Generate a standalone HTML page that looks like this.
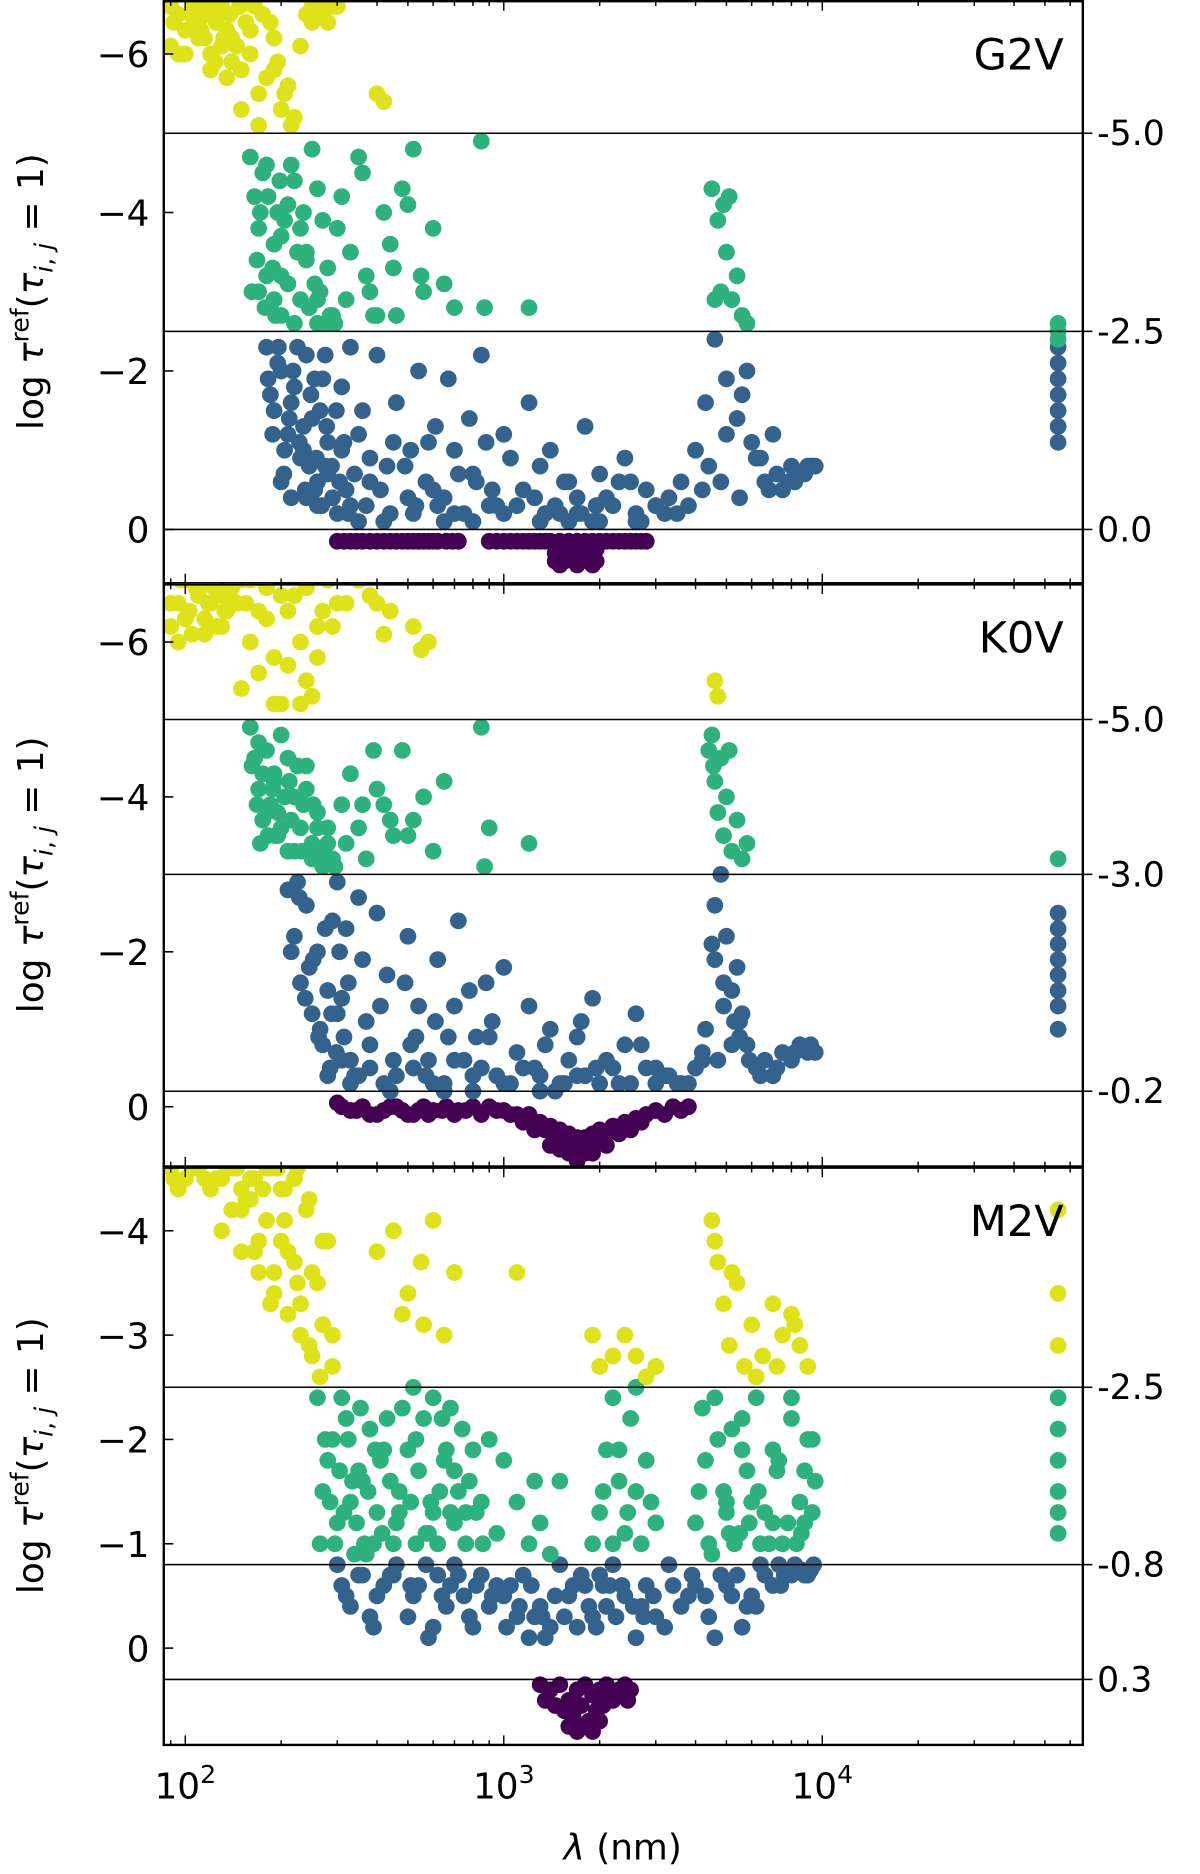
<!DOCTYPE html>
<html><head><meta charset="utf-8"><style>
html,body{margin:0;padding:0;background:#fff}
svg{display:block}
text{font-family:"DejaVu Sans","Liberation Sans",sans-serif;fill:#000}
</style></head><body>
<svg id="chart" width="1200" height="1874" viewBox="0 0 1004 1568" xmlns="http://www.w3.org/2000/svg"></svg>
<script>
// ---------- Data (wavelength nm, log tau) ----------
const xTicks = [100, 1000, 10000];
const xTickExp = ["2", "3", "4"];
const colors = {y:"#dde318", g:"#2db27d", b:"#33638d", p:"#440154"};

// Panel 1: G2V
const g2vYellowLam = [90,95,100,105,110,115,120,125,130,135,140,100,110,120,130,140,150,160,170,180,190,200,220,240,260,280,300,150,170,190,210,230,250,400,420,95,115,135,155,175,92,108,128,148,
 90,98,104,112,118,124,132,138,145,160,165,185,195,205,215,250,270,290];
const g2vYellowTau = [-6.6,-6.5,-6.3,-6.6,-6.2,-6.5,-6.0,-6.4,-6.1,-6.3,-5.9,-6.0,-6.4,-5.8,-6.6,-6.2,-5.8,-6.0,-5.5,-5.7,-6.2,-5.3,-5.2,-6.5,-6.6,-6.4,-6.6,-5.3,-5.1,-5.8,-5.6,-6.1,-6.6,-5.5,-5.4,-6.0,-6.2,-5.7,-6.4,-6.5,-6.4,-6.6,-6.5,-6.6,
 -6.1,-6.0,-6.5,-6.3,-6.6,-5.9,-6.2,-6.5,-6.1,-6.3,-6.6,-6.4,-5.9,-5.5,-5.1,-6.4,-6.5,-6.6];
const g2vGreenLam = [160,165,170,175,180,185,190,195,200,210,220,230,240,250,260,270,280,170,180,190,200,210,220,240,260,290,310,330,350,370,390,420,450,480,520,560,600,650,700,320,360,400,440,500,550,850,870,1200,4500,4700,4800,4900,5000,5200,5400,5600,4600,5100,5800,55000,55000,55000,300,380,460,
 162,168,172,178,182,188,192,198,205,215,225,235,245,255,265,275,285,295,200,230,260];
const g2vGreenTau = [-4.7,-4.2,-3.8,-4.5,-3.2,-2.8,-3.6,-4.0,-2.7,-3.1,-4.4,-2.9,-3.5,-4.8,-2.6,-3.9,-3.3,-3.0,-4.6,-2.9,-3.7,-4.1,-2.6,-3.4,-4.3,-2.7,-4.2,-3.5,-4.7,-3.2,-2.7,-4.0,-3.3,-4.3,-4.8,-3.0,-3.8,-3.1,-2.8,-2.9,-4.5,-2.7,-3.6,-4.1,-3.2,-4.9,-2.8,-2.8,-4.3,-3.9,-3.0,-4.1,-3.5,-2.9,-3.2,-2.7,-2.9,-4.2,-2.6,-2.6,-2.5,-2.4,-3.8,-3.0,-2.7,
 -3.0,-3.4,-4.0,-2.8,-4.2,-3.3,-2.7,-4.4,-3.9,-4.6,-3.5,-4.0,-2.8,-3.1,-3.0,-2.6,-2.7,-2.6,-3.2,-3.8,-2.9];
const g2vBlueLam = [180,190,200,210,220,230,240,250,260,270,280,290,185,195,205,215,225,235,245,255,265,275,300,310,320,330,350,370,400,430,460,500,540,580,620,670,720,780,850,920,1000,1100,1200,1300,1400,1500,1600,1700,1800,1900,2000,2200,2400,2600,2800,3000,3300,3600,4000,4300,4600,5000,5400,5800,6200,6600,7000,7500,8000,8500,9000,9500,330,380,440,510,600,700,800,900,1050,1250,1450,1700,2100,2500,3000,3500,4200,4800,5500,350,420,520,650,800,1000,1300,1600,2000,2600,55000,55000,55000,55000,55000,55000,55000,240,280,310,260,8800,9300,7800,6800,
 182,188,196,204,212,218,228,238,248,258,268,278,288,298,305,315,325,340,360,380,410,450,490,530,570,610,650,700,750,820,880,950,1150,1350,1550,1750,1950,2300,2700,3200,3800,4400,5000,5600,6000,6400,7200,8200,9200,200,215,235,255,275];
const g2vBlueTau = [-2.3,-1.5,-2.0,-1.2,-1.8,-0.9,-2.2,-1.4,-0.6,-1.9,-1.1,-0.4,-1.7,-2.1,-1.0,-1.6,-2.3,-1.3,-0.8,-1.9,-1.5,-2.2,-0.2,-1.8,-0.5,-2.3,-1.2,-0.3,-2.2,-0.8,-1.6,-0.4,-2.0,-1.1,-0.3,-1.9,-0.7,-1.4,-2.2,-0.5,-1.2,-0.3,-1.6,-0.8,-1.0,-0.2,-0.6,-0.4,-1.3,-0.1,-0.7,-0.3,-0.9,-0.2,-0.5,-0.3,-0.4,-0.6,-1.0,-1.6,-2.4,-1.9,-1.4,-2.0,-0.9,-0.6,-1.2,-0.5,-0.8,-0.7,-0.8,-0.8,-0.3,-0.6,-0.2,-1.0,-0.5,-0.2,-0.7,-0.3,-0.9,-0.4,-0.3,-0.2,-0.4,-0.6,-0.3,-0.2,-0.5,-0.6,-0.4,-0.1,-0.1,-0.2,-0.1,-0.1,-0.2,-0.1,-0.1,-0.1,-0.1,-2.3,-2.1,-1.9,-1.7,-1.5,-1.3,-1.1,-0.4,-0.7,-1.0,-0.3,-0.7,-0.8,-0.6,-0.5,
 -1.9,-1.2,-2.3,-0.7,-1.4,-2.0,-1.1,-0.5,-1.7,-0.9,-0.3,-1.3,-0.8,-1.5,-0.6,-1.1,-0.2,-0.7,-1.5,-0.9,-0.5,-1.1,-0.8,-0.3,-0.6,-1.3,-0.4,-1.0,-0.2,-0.6,-1.1,-0.3,-0.5,-0.2,-0.6,-0.2,-0.3,-0.6,-0.1,-0.2,-0.3,-0.8,-1.2,-1.7,-1.1,-0.9,-0.7,-0.6,-0.8,-0.6,-0.4,-1.0,-0.5,-0.8];
const g2vPurpleLam = [300,330,360,400,440,480,520,560,600,660,720,900,1000,1100,1200,1300,1400,1500,1600,1700,1800,1900,2000,2200,2400,2600,2800,1450,1550,1650,1750,1850,1950,
 315,345,380,420,460,500,540,580,620,690,950,1050,1150,1250,1350,1450,1550,1650,1750,1850,1950,2100,2300,2500,2700,1500,1700,1900];
const g2vPurpleTau = [0.15,0.15,0.15,0.15,0.15,0.15,0.15,0.15,0.15,0.15,0.15,0.15,0.15,0.15,0.15,0.15,0.15,0.15,0.15,0.15,0.15,0.15,0.15,0.15,0.15,0.15,0.15,0.4,0.4,0.3,0.4,0.3,0.4,
 0.15,0.15,0.15,0.15,0.15,0.15,0.15,0.15,0.15,0.15,0.15,0.15,0.15,0.15,0.15,0.3,0.25,0.3,0.25,0.3,0.25,0.15,0.15,0.15,0.15,0.45,0.45,0.45];

// Panel 2: K0V
const k0vYellowLam = [90,95,100,105,110,115,120,125,130,135,140,100,110,120,130,140,150,160,170,180,190,200,220,240,260,280,300,150,170,190,210,230,250,400,420,550,580,95,115,135,155,175,200,230,260,4600,4700,
 90,97,103,108,113,118,123,128,133,138,145,160,180,210,240,270,290,320,350,380,440,520];
const k0vYellowTau = [-6.2,-6.5,-6.8,-6.1,-6.6,-6.3,-6.8,-6.2,-6.6,-6.4,-6.8,-6.3,-6.7,-6.5,-6.2,-6.7,-6.8,-6.0,-5.6,-6.3,-5.8,-5.2,-6.6,-5.5,-6.2,-6.8,-6.5,-5.4,-6.4,-5.2,-5.7,-6.0,-5.3,-6.5,-6.1,-5.9,-6.0,-6.0,-6.1,-6.6,-6.5,-6.8,-6.6,-5.2,-5.8,-5.5,-5.3,
 -6.5,-6.8,-6.4,-6.7,-6.8,-6.5,-6.7,-6.8,-6.4,-6.6,-6.5,-6.8,-6.7,-6.4,-6.7,-6.4,-6.2,-6.5,-6.8,-6.6,-6.4,-6.2];
const k0vGreenLam = [160,165,170,175,180,185,190,195,200,210,220,230,240,250,260,270,280,290,170,180,190,200,210,220,240,260,310,330,350,370,390,420,450,480,520,560,600,650,320,360,400,440,500,850,870,900,1200,4400,4500,4600,4700,4800,4900,5000,5200,5400,5600,5800,4550,5100,55000,
 162,168,175,182,188,195,205,215,225,235,250,265,280,295,172,192,212,232,252,272];
const k0vGreenTau = [-4.9,-4.5,-4.1,-3.7,-4.6,-3.9,-4.3,-3.5,-4.8,-3.3,-4.0,-3.6,-4.4,-3.2,-3.8,-3.1,-3.4,-3.2,-4.7,-3.8,-4.2,-3.6,-4.5,-3.3,-4.1,-3.6,-3.9,-4.3,-3.6,-3.2,-4.6,-3.9,-3.5,-4.6,-3.7,-4.0,-3.3,-4.2,-3.4,-3.9,-4.1,-3.7,-3.5,-4.9,-3.1,-3.6,-3.4,-4.6,-4.8,-4.2,-3.8,-4.5,-3.5,-4.0,-3.3,-3.7,-3.2,-3.4,-4.4,-4.6,-3.2,
 -4.4,-3.9,-4.3,-3.5,-4.1,-3.8,-4.0,-3.7,-4.4,-3.9,-3.4,-3.3,-3.6,-3.1,-3.4,-3.5,-4.2,-3.3,-3.9,-3.2];
const k0vBlueLam = [210,220,230,240,250,260,270,280,290,225,245,265,285,300,310,320,330,350,370,400,430,460,500,540,580,620,670,720,780,850,920,1000,1100,1200,1300,1400,1500,1600,1700,1800,1900,2000,2200,2400,2600,2800,3000,3300,3600,4000,4300,4600,4800,5000,5200,5400,5600,5800,6200,6600,7000,7500,8000,8500,9000,9500,330,380,440,510,600,700,800,900,1050,1250,1450,1700,2100,2500,3000,3500,4200,4500,4900,5500,350,420,520,650,800,1000,1300,55000,55000,55000,55000,55000,55000,55000,55000,300,280,310,4700,5300,
 215,228,238,252,262,275,288,298,305,315,325,340,360,380,410,450,490,530,570,610,650,700,750,820,880,950,1150,1350,1550,1750,1950,2300,2700,3200,3800,4200,4600,4900,5200,5500,5900,6400,7200,8200,9200];
const k0vBlueTau = [-2.8,-2.2,-1.6,-2.6,-1.2,-2.0,-0.8,-1.5,-2.4,-2.9,-1.8,-1.0,-0.5,-2.9,-1.4,-2.3,-0.6,-2.7,-1.1,-2.5,-1.7,-0.4,-2.2,-1.3,-0.6,-1.9,-0.9,-2.4,-1.5,-0.5,-1.1,-1.8,-0.7,-1.3,-0.4,-1.0,-0.3,-0.6,-0.9,-0.4,-1.4,-0.3,-0.5,-0.8,-1.2,-0.5,-0.3,-0.4,-0.3,-0.5,-1.0,-2.6,-3.0,-2.2,-1.5,-1.8,-1.2,-0.8,-0.5,-0.6,-0.4,-0.7,-0.6,-0.8,-0.7,-0.7,-0.3,-0.5,-0.2,-0.8,-0.3,-0.6,-0.2,-0.9,-0.3,-0.5,-0.2,-0.4,-0.6,-0.3,-0.5,-0.3,-0.7,-2.1,-1.6,-0.9,-0.4,-0.3,-0.5,-0.2,-0.4,-0.3,-0.2,-2.5,-2.3,-2.1,-1.9,-1.7,-1.5,-1.3,-1.0,-1.2,-0.4,-0.6,-0.6,-1.1,
 -2.0,-2.7,-1.4,-1.9,-0.9,-2.3,-1.2,-0.7,-2.0,-0.9,-1.6,-0.4,-1.9,-0.8,-1.3,-0.6,-1.6,-0.9,-0.4,-1.1,-0.3,-1.3,-0.6,-0.9,-1.6,-0.4,-0.5,-0.8,-0.3,-1.1,-0.5,-0.3,-0.8,-0.4,-0.3,-0.6,-1.9,-1.3,-0.8,-1.1,-0.6,-0.4,-0.5,-0.7,-0.8];
const k0vPurpleLam = [300,330,360,400,440,480,520,560,600,660,720,800,900,1000,1100,1200,1300,1400,1500,1600,1700,1800,1900,2000,2200,2400,2600,2800,3000,3400,3800,1350,1450,1550,1650,1750,1850,1950,2100,1600,1700,1800,
 310,345,380,420,460,500,540,580,640,700,760,850,950,1050,1150,1250,1400,1500,1700,1900,2100,2300,2500,2700,3200,3600];
const k0vPurpleTau = [-0.05,0.05,0,0.1,0,0.05,0.1,0,0.05,0,0.05,0,0,0.05,0.1,0.1,0.2,0.25,0.3,0.35,0.4,0.4,0.35,0.3,0.25,0.2,0.15,0.1,0.05,0,0,0.3,0.4,0.5,0.5,0.5,0.5,0.45,0.35,0.6,0.65,0.6,
 0,0.05,0.1,0.05,0,0.1,0.05,0.1,0.05,0.1,0.05,0.1,0.05,0.1,0.2,0.3,0.5,0.55,0.7,0.6,0.5,0.35,0.3,0.2,0.1,0.05];

// Panel 3: M2V
const m2vYellowLam = [90,100,110,120,130,140,150,160,180,200,220,95,115,135,155,175,195,130,140,150,160,170,180,190,200,210,220,230,240,250,260,270,280,290,165,185,205,225,245,265,400,450,500,550,600,650,700,480,560,1100,1900,2000,2200,2400,2600,2800,3000,4500,4700,4900,5100,5400,5700,6000,6500,7000,7500,8000,8500,9000,4600,5200,6200,7200,8200,55000,55000,55000,
 92,105,125,145,165,185,205,225,245,270,290,150,170,190,210,230,250];
const m2vYellowTau = [-4.6,-4.5,-4.6,-4.4,-4.5,-4.6,-4.4,-4.5,-4.6,-4.4,-4.5,-4.4,-4.5,-4.6,-4.3,-4.4,-4.6,-4.0,-4.2,-3.8,-4.3,-3.6,-4.1,-3.4,-3.9,-3.2,-3.7,-3.0,-4.2,-2.8,-3.5,-3.1,-3.9,-2.7,-3.8,-3.3,-4.1,-3.5,-2.9,-2.6,-3.8,-4.0,-3.4,-3.7,-4.1,-3.0,-3.6,-3.2,-3.1,-3.6,-3.0,-2.7,-2.8,-3.0,-2.8,-2.6,-2.7,-4.1,-3.7,-3.3,-2.9,-3.5,-2.7,-3.1,-2.8,-3.3,-3.0,-3.2,-2.9,-2.7,-3.9,-3.6,-2.6,-2.7,-3.1,-4.2,-3.4,-2.9,
 -4.5,-4.6,-4.5,-4.6,-4.5,-4.6,-4.4,-4.6,-4.3,-3.9,-3.0,-4.2,-3.9,-3.6,-3.8,-3.3,-3.6];
const m2vGreenLam = [260,280,300,320,340,360,380,400,420,450,480,510,540,570,600,630,660,700,740,780,820,860,900,270,310,350,390,430,470,520,580,640,700,760,290,330,370,410,460,530,600,680,1000,1100,1200,1300,1400,1500,2000,2100,2200,2300,2400,2500,2600,2800,3000,2200,2600,4000,4300,4600,4900,5200,5500,5800,6200,6600,7000,7500,8000,8500,9000,9500,4500,5000,5600,6400,7200,8000,8800,9300,55000,55000,55000,55000,55000,55000,
 265,275,285,295,305,315,325,335,345,355,365,375,395,415,440,470,500,530,560,590,620,650,680,720,760,800,850,950,1250,1900,2050,2300,2450,2700,2900,4100,4400,4700,5000,5300,5600,5900,6300,6800,7300,7800,8300,8800,9300,4200,5100,6000,7000,8600];
const m2vGreenTau = [-2.4,-1.8,-1.2,-2.2,-0.9,-1.6,-2.1,-1.3,-1.9,-1.0,-2.3,-1.4,-1.7,-1.1,-2.4,-1.5,-1.9,-1.2,-2.1,-1.6,-1.3,-1.0,-2.0,-1.5,-2.4,-1.7,-1.0,-2.2,-1.5,-2.5,-1.1,-2.2,-1.7,-1.3,-2.0,-1.4,-0.9,-1.8,-1.2,-2.0,-1.3,-2.3,-1.8,-1.4,-1.0,-1.2,-0.9,-1.6,-1.3,-1.9,-2.4,-1.6,-1.1,-2.2,-1.5,-1.8,-1.2,-1.0,-2.5,-1.2,-1.8,-2.4,-1.5,-2.1,-1.1,-1.7,-2.4,-1.3,-1.9,-1.0,-2.2,-1.4,-2.0,-1.6,-0.9,-1.4,-2.2,-1.0,-1.7,-2.4,-1.2,-2.0,-2.4,-2.1,-1.8,-1.5,-1.3,-1.1,
 -1.0,-2.0,-1.4,-1.0,-1.7,-1.3,-2.0,-1.6,-1.2,-2.3,-1.0,-1.5,-1.9,-1.1,-1.6,-1.3,-1.9,-1.0,-2.2,-1.4,-1.0,-1.8,-1.3,-1.5,-1.0,-1.9,-1.4,-1.1,-1.6,-1.0,-1.5,-1.9,-1.3,-1.0,-1.4,-1.5,-1.0,-2.0,-1.3,-1.0,-1.9,-1.2,-1.5,-1.0,-1.8,-1.2,-1.0,-1.7,-1.3,-2.3,-1.1,-1.4,-1.2,-1.1];
const m2vBlueLam = [300,330,360,390,420,460,500,540,580,620,660,700,750,800,850,900,950,320,380,440,520,600,680,780,1000,1100,1200,1300,1400,1050,1150,1250,1350,1500,1600,1700,1800,1900,2000,2100,2200,2400,1550,1750,1950,2150,2600,2800,3000,3300,3600,4000,4400,4800,5200,5600,6000,6400,7000,7600,8200,8800,9400,2700,3200,3800,4600,5400,6200,7400,9000,
 310,350,400,450,510,570,640,720,820,920,1020,1120,1220,1320,1450,1650,1850,2050,2250,2350,2550,2750,2950,3400,3900,4300,5000,5800,6600,7300,8000,8600,9200];
const m2vBlueTau = [-0.8,-0.4,-0.7,-0.2,-0.6,-0.8,-0.3,-0.6,-0.1,-0.7,-0.4,-0.8,-0.5,-0.2,-0.7,-0.4,-0.6,-0.5,-0.3,-0.7,-0.5,-0.2,-0.6,-0.3,-0.5,-0.3,-0.1,-0.4,-0.2,-0.6,-0.7,-0.3,-0.1,-0.8,-0.5,-0.2,-0.6,-0.3,-0.7,-0.4,-0.8,-0.5,-0.3,-0.7,-0.2,-0.6,-0.1,-0.6,-0.3,-0.8,-0.4,-0.6,-0.3,-0.7,-0.5,-0.2,-0.5,-0.8,-0.6,-0.7,-0.8,-0.7,-0.8,-0.4,-0.2,-0.5,-0.1,-0.7,-0.4,-0.6,-0.7,
 -0.6,-0.7,-0.5,-0.7,-0.6,-0.8,-0.5,-0.7,-0.6,-0.5,-0.2,-0.4,-0.6,-0.3,-0.5,-0.6,-0.4,-0.6,-0.3,-0.6,-0.4,-0.3,-0.5,-0.6,-0.7,-0.5,-0.6,-0.4,-0.7,-0.8,-0.7,-0.75,-0.75];
const m2vPurpleLam = [1300,1400,1500,1600,1700,1800,1900,2000,2100,2200,2300,2400,2500,1450,1550,1650,1750,1850,1950,2050,2150,1600,1700,1800,1900,2000,1350,2450];
const m2vPurpleTau = [0.35,0.4,0.35,0.5,0.4,0.35,0.45,0.4,0.35,0.5,0.4,0.35,0.4,0.55,0.6,0.65,0.55,0.7,0.6,0.55,0.5,0.75,0.8,0.75,0.8,0.7,0.5,0.5];

// Reference lines & ticks per panel
const g2vLines = [-5.0, -2.5, 0.0];
const g2vLineLabels = ["-5.0", "-2.5", "0.0"];
const k0vLines = [-5.0, -3.0, -0.2];
const k0vLineLabels = ["-5.0", "-3.0", "-0.2"];
const m2vLines = [-2.5, -0.8, 0.3];
const m2vLineLabels = ["-2.5", "-0.8", "0.3"];
const g2vYTicks = [-6, -4, -2, 0];
const k0vYTicks = [-6, -4, -2, 0];
const m2vYTicks = [-4, -3, -2, -1, 0];

// ---------- Drawing ----------
const NS = "http://www.w3.org/2000/svg";
const svg = document.getElementById("chart");
const L = 137, R = 906;
function xScale(lam){ return 155 + (Math.log10(lam) - 2) * 266.5; }
function mk(tag, attrs, parent){
  const e = document.createElementNS(NS, tag);
  for (const k in attrs) e.setAttribute(k, attrs[k]);
  (parent || svg).appendChild(e);
  return e;
}

const panels = [
  {name:"g2v", title:"G2V", top:0, bot:488, y0:443, unit:66.3, lines:g2vLines, lineLabels:g2vLineLabels, yticks:g2vYTicks,
   sets:[[g2vPurpleLam,g2vPurpleTau,"p"],[g2vBlueLam,g2vBlueTau,"b"],[g2vGreenLam,g2vGreenTau,"g"],[g2vYellowLam,g2vYellowTau,"y"]]},
  {name:"k0v", title:"K0V", top:488, bot:976, y0:926, unit:64.8, lines:k0vLines, lineLabels:k0vLineLabels, yticks:k0vYTicks,
   sets:[[k0vPurpleLam,k0vPurpleTau,"p"],[k0vBlueLam,k0vBlueTau,"b"],[k0vGreenLam,k0vGreenTau,"g"],[k0vYellowLam,k0vYellowTau,"y"]]},
  {name:"m2v", title:"M2V", top:976, bot:1460, y0:1379, unit:87.3, lines:m2vLines, lineLabels:m2vLineLabels, yticks:m2vYTicks,
   sets:[[m2vPurpleLam,m2vPurpleTau,"p"],[m2vBlueLam,m2vBlueTau,"b"],[m2vGreenLam,m2vGreenTau,"g"],[m2vYellowLam,m2vYellowTau,"y"]]}
];

panels.forEach((P, pi) => {
  const g = mk("g", {});
  
  
  const yScale = v => P.y0 + v * P.unit;
  const clipId = "clip" + pi;
  const cp = mk("clipPath", {id:clipId}, g);
  mk("rect", {x:L, y:P.top, width:R-L, height:P.bot-P.top}, cp);
  const pts = mk("g", {"clip-path":"url(#"+clipId+")"}, g);
  
  
  P.sets.forEach(s => {
    const lam = s[0], tau = s[1], c = s[2];
    const n = Math.min(lam.length, tau.length);
    for (let i = 0; i < n; i++){
      const d = mk("circle", {cx:xScale(lam[i]).toFixed(1), cy:yScale(tau[i]).toFixed(1), r:7, fill:colors[c]}, pts);
      
      
    }
  });
  P.lines.forEach((v, i) => {
    const y = yScale(v);
    const ln = mk("line", {x1:L, x2:R, y1:y, y2:y, stroke:"#000", "stroke-width":1.3}, g);
    
    
    mk("line", {x1:R, x2:R+8, y1:y, y2:y, stroke:"#000", "stroke-width":1.3}, g);
    const t = mk("text", {x:R+12, y:y+10, "font-size":29}, g);
    t.textContent = P.lineLabels[i];
    
    
  });
  const fr = mk("rect", {x:L, y:P.top+1, width:R-L, height:P.bot-P.top-1, fill:"none", stroke:"#000", "stroke-width":2}, g);
  
  
  P.yticks.forEach(v => {
    const y = yScale(v);
    mk("line", {x1:L, x2:L+8, y1:y, y2:y, stroke:"#000", "stroke-width":1.3}, g);
    const t = mk("text", {x:L-12, y:y+11, "font-size":30, "text-anchor":"end"}, g);
    t.textContent = v < 0 ? "\u2212" + Math.abs(v) : String(v);
    
    
  });
  for (let dec = 1; dec <= 4; dec++){
    for (let m = 1; m <= 9; m++){
      const lam = m * Math.pow(10, dec);
      const x = xScale(lam);
      if (x < L || x > R) continue;
      const len = m === 1 ? 8 : 4;
      mk("line", {x1:x, x2:x, y1:P.bot, y2:P.bot-len, stroke:"#000", "stroke-width":1.2}, g);
      mk("line", {x1:x, x2:x, y1:P.top+1, y2:P.top+1+len, stroke:"#000", "stroke-width":1.2}, g);
    }
  }
  const tt = mk("text", {x:890, y:P.top+58, "font-size":36, "text-anchor":"end"}, g);
  tt.textContent = P.title;
  
  
  const yc = (P.top + P.bot) / 2;
  const yl = mk("text", {x:0, y:0, "font-size":30, "text-anchor":"middle", transform:"translate(36," + yc + ") rotate(-90)"}, g);
  yl.innerHTML = 'log <tspan font-style="italic">τ</tspan><tspan dy="-12" font-size="21">ref</tspan><tspan dy="12">(</tspan><tspan font-style="italic">τ</tspan><tspan dy="8" font-size="21" font-style="italic">i</tspan><tspan font-size="21">, </tspan><tspan font-size="21" font-style="italic">j</tspan><tspan dy="-8"> = 1)</tspan>';
  
  
});

xTicks.forEach((v, i) => {
  const t = mk("text", {x:xScale(v), y:1505, "font-size":30, "text-anchor":"middle"});
  t.innerHTML = '10<tspan dy="-13" font-size="21">' + xTickExp[i] + '</tspan>';
  
  
});
const xl = mk("text", {x:521, y:1556, "font-size":30, "text-anchor":"middle"});
xl.innerHTML = '<tspan font-style="italic">λ</tspan> (nm)';


</script>
</body></html>
